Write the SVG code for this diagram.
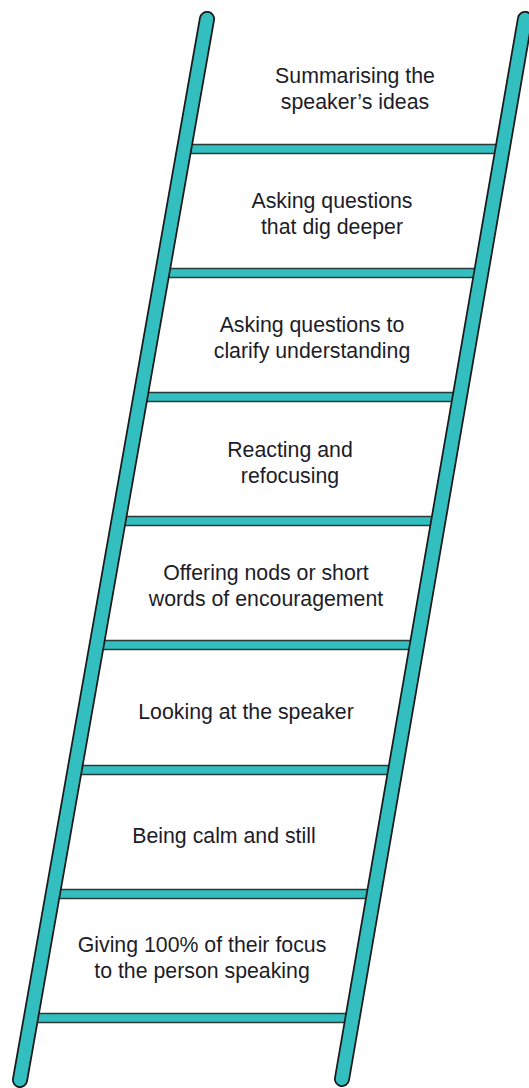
<svg xmlns="http://www.w3.org/2000/svg" width="529" height="1088" viewBox="0 0 529 1088">
<style>
.rung{fill:#33bfbf;stroke:#2a3a3a;stroke-width:1.5}
.railo{stroke:#1a1a1a;stroke-width:16;stroke-linecap:round;fill:none}
.raili{stroke:#33bfbf;stroke-width:12.5;stroke-linecap:round;fill:none}
text{font-family:"Liberation Sans",Arial,sans-serif;font-size:21.3px;fill:#1c1c28;text-anchor:middle}
</style>
<rect width="529" height="1088" fill="#fff"/>
<g id="rungs">
<rect class="rung" x="184" y="144.5" width="318" height="9"/>
<rect class="rung" x="162" y="268.5" width="318" height="9"/>
<rect class="rung" x="140" y="392.5" width="318" height="9"/>
<rect class="rung" x="118" y="516.5" width="318" height="9"/>
<rect class="rung" x="96" y="640.5" width="318" height="9"/>
<rect class="rung" x="74" y="765.5" width="318" height="9"/>
<rect class="rung" x="52" y="889.5" width="318" height="9"/>
<rect class="rung" x="30" y="1013.5" width="318" height="9"/>
</g>
<g id="rails">
<line class="railo" x1="207" y1="19" x2="20" y2="1080"/>
<line class="raili" x1="207" y1="19" x2="20" y2="1080"/>
<line class="railo" x1="525" y1="19" x2="342" y2="1079"/>
<line class="raili" x1="525" y1="19" x2="342" y2="1079"/>
</g>
<g id="step8"><text x="355" y="83">Summarising the</text><text x="355" y="109">speaker’s ideas</text></g>
<g id="step7"><text x="332" y="208">Asking questions</text><text x="332" y="234">that dig deeper</text></g>
<g id="step6"><text x="312" y="332">Asking questions to</text><text x="312" y="358">clarify understanding</text></g>
<g id="step5"><text x="290" y="457">Reacting and</text><text x="290" y="483">refocusing</text></g>
<g id="step4"><text x="266" y="580">Offering nods or short</text><text x="266" y="606">words of encouragement</text></g>
<g id="step3"><text x="246" y="719">Looking at the speaker</text></g>
<g id="step2"><text x="224" y="843">Being calm and still</text></g>
<g id="step1"><text x="202" y="952">Giving 100% of their focus</text><text x="202" y="978">to the person speaking</text></g>
</svg>
